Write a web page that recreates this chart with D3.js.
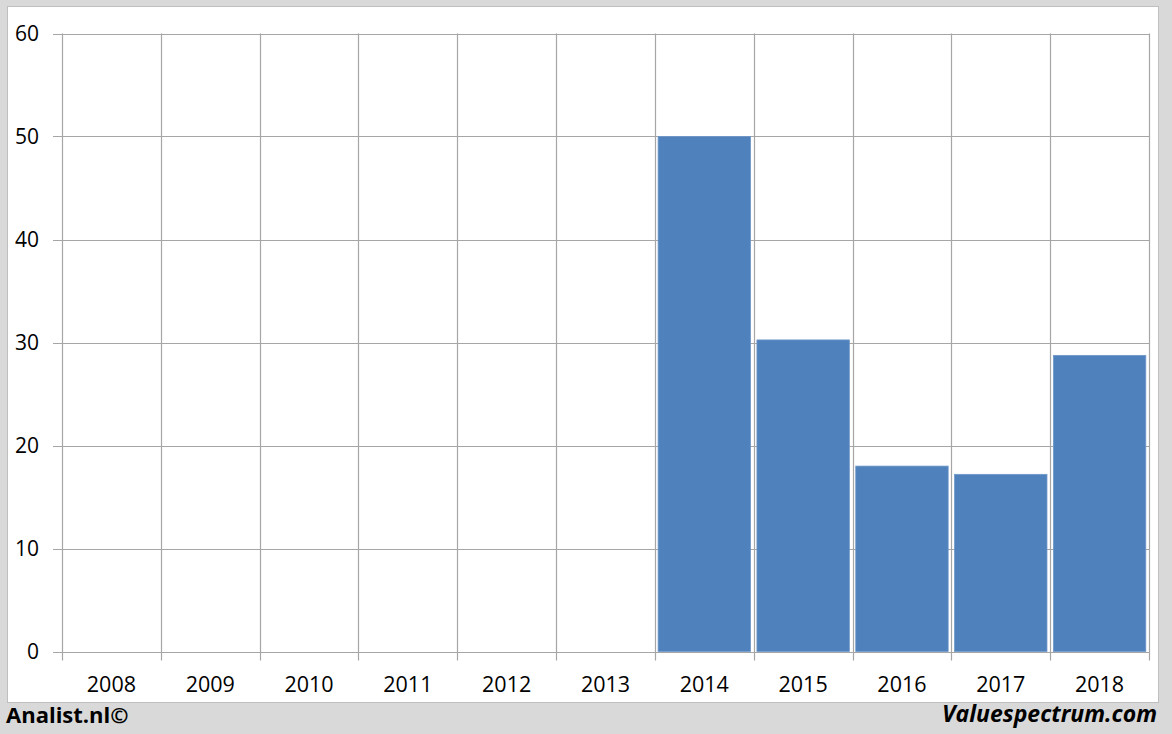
<!DOCTYPE html>
<html><head><meta charset="utf-8">
<script src="https://cdn.jsdelivr.net/npm/d3@7"></script>
<style>html,body{margin:0;padding:0;background:#d9d9d9;}svg{display:block;}</style>
</head><body>
<script>
const categories = ["2008","2009","2010","2011","2012","2013","2014","2015","2016","2017","2018"];
const values = [null,null,null,null,null,null,50.0,30.25,18.0,17.2,28.75];
const yTicks = [0,10,20,30,40,50,60];

const W = 1172, H = 734;
const svg = d3.select("body").append("svg").attr("width", W).attr("height", H);
const font = "'Open Sans', 'Liberation Sans', sans-serif";

svg.append("rect").attr("x",0).attr("y",0).attr("width",W).attr("height",H).attr("fill","#d9d9d9");
svg.append("rect").attr("x",7.5).attr("y",6.5).attr("width",1151).attr("height",696)
  .attr("fill","#ffffff").attr("stroke","#bfbfbf").attr("stroke-width",1);

const pL = 62, pR = 1149, pT = 33.5, pB = 651.5;
const x = d3.scaleBand().domain(categories).range([pL,pR]).paddingInner(0).paddingOuter(0);
const y = d3.scaleLinear().domain([0,60]).range([pB, pT]);

const g = svg.append("g");
g.selectAll("line.h").data(yTicks).join("line")
  .attr("x1", pL-9).attr("x2", pR)
  .attr("y1", d=>Math.round(y(d))+0.5).attr("y2", d=>Math.round(y(d))+0.5)
  .attr("stroke","#a6a6a6").attr("stroke-width",1.2);
const bounds = categories.map(c=>x(c)).concat([pR]);
g.selectAll("line.v").data(bounds).join("line")
  .attr("x1", d=>Math.round(d)+0.5).attr("x2", d=>Math.round(d)+0.5)
  .attr("y1", pT).attr("y2", pB+9)
  .attr("stroke","#a6a6a6").attr("stroke-width",1.2);

const bw = x.bandwidth();
const pad = 3.2;
g.selectAll("rect.bar").data(categories.map((c,i)=>({c,v:values[i]})).filter(d=>d.v!=null)).join("rect")
  .attr("x", d=>x(d.c)+pad).attr("width", bw-2*pad)
  .attr("y", d=>y(d.v)).attr("height", d=>y(0)-y(d.v))
  .attr("fill","#4f81bd").attr("stroke","#6f97c9").attr("stroke-width",0.8);

g.selectAll("text.y").data(yTicks).join("text")
  .attr("x", 39).attr("y", d=>y(d)+7.5)
  .attr("text-anchor","end").attr("font-family",font).attr("font-size",21).attr("fill","#000")
  .text(d=>d);
g.selectAll("text.x").data(categories).join("text")
  .attr("x", d=>x(d)+bw/2).attr("y", 692)
  .attr("text-anchor","middle").attr("font-family",font).attr("font-size",21.5).attr("fill","#000")
  .text(d=>d);

svg.append("text").attr("x",6).attr("y",723).attr("font-family",font).attr("font-weight","bold")
  .attr("font-size",22).attr("fill","#000").text("Analist.nl©");
svg.append("text").attr("x",1157).attr("y",722).attr("text-anchor","end").attr("font-family",font)
  .attr("font-weight","bold").attr("font-style","italic").attr("font-size",23).attr("fill","#000").text("Valuespectrum.com");
</script>
</body></html>
